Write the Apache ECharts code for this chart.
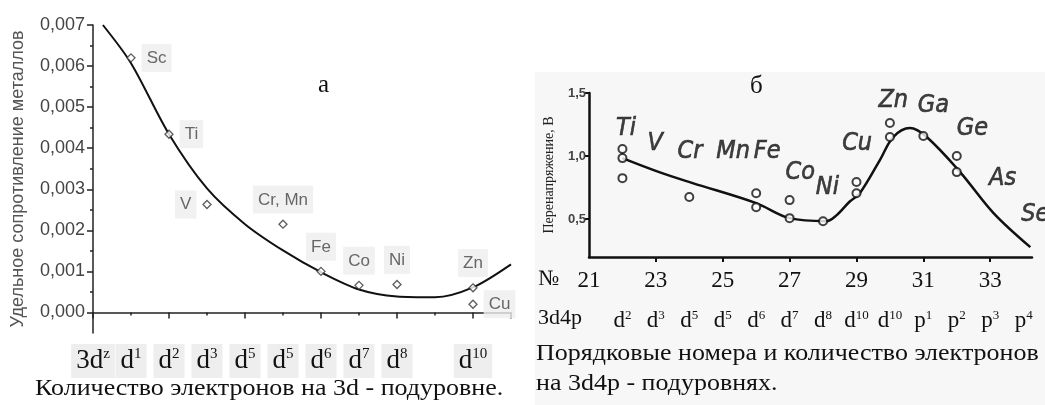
<!DOCTYPE html>
<html>
<head>
<meta charset="utf-8">
<script src="https://cdn.jsdelivr.net/npm/echarts@6/dist/echarts.min.js"></script>
<style>
html,body{margin:0;padding:0;background:#fff}
#chart{width:1045px;height:405px}
</style>
</head>
<body>
<div id="chart"></div>
<script>
// ---- left panel (а): resistivity vs number of 3d electrons
const leftTickVals = [0, 1, 2, 3, 4, 5, 6, 7, 8, 10];
const leftTickBase = ['3d', 'd', 'd', 'd', 'd', 'd', 'd', 'd', 'd', 'd'];
const leftTickSup = ['z', '1', '2', '3', '5', '5', '6', '7', '8', '10'];
const metalNames = ['Sc', 'Ti', 'V', 'Cr, Mn', 'Fe', 'Co', 'Ni', 'Zn', 'Cu'];
const metalX = [1, 2, 3, 5, 6, 7, 8, 10, 10];
const metalRho = [0.0062, 0.00434, 0.00263, 0.00215, 0.001, 0.00066, 0.00068, 0.0006, 0.0002];
const metalLabelPos = ['right', 'right', 'left', 'top', 'top', 'top', 'top', 'top', 'right'];
const fitX = [0.26, 1, 2, 3, 4, 5, 6, 7, 8, 9, 10, 11];
const fitRho = [0.007, 0.00607, 0.00434, 0.00302, 0.00215, 0.00151, 0.00098, 0.00056, 0.00039, 0.00037, 0.00061, 0.00117];
const rhoTicks = [0, 0.001, 0.002, 0.003, 0.004, 0.005, 0.006, 0.007];
const rhoMinor = [0.0005, 0.0015, 0.0025, 0.0035, 0.0045, 0.0055, 0.0065];

// ---- right panel (б): overvoltage vs atomic number
const numTicks = [21, 23, 25, 27, 29, 31, 33];
const shellVals = [22, 23, 24, 25, 26, 27, 28, 29, 30, 31, 32, 33, 34];
const shellBase = ['d', 'd', 'd', 'd', 'd', 'd', 'd', 'd', 'd', 'p', 'p', 'p', 'p'];
const shellSup = ['2', '3', '5', '5', '6', '7', '8', '10', '10', '1', '2', '3', '4'];
const voltTicks = [0.5, 1.0, 1.5];
const measZ = [22, 22, 22, 24, 26, 26, 27, 27, 28, 29, 29, 30, 30, 31, 32, 32];
const measV = [1.056, 0.984, 0.825, 0.675, 0.706, 0.595, 0.651, 0.508, 0.484, 0.794, 0.706, 1.262, 1.151, 1.159, 1.0, 0.873];
const curveZ = [22, 23.1, 24.1, 26, 27, 28.1, 28.4, 28.8, 29.1, 29.7, 30.1, 30.6, 31.1, 32.1, 33.1, 34.2];
const curveV = [0.984, 0.873, 0.786, 0.627, 0.508, 0.484, 0.53, 0.64, 0.706, 0.968, 1.151, 1.222, 1.151, 0.873, 0.548, 0.278];
const elemNames = ['Ti', 'V', 'Cr', 'Mn', 'Fe', 'Co', 'Ni', 'Cu', 'Zn', 'Ga', 'Ge', 'As', 'Se'];
const elemZ = [22.11, 22.98, 24.02, 25.31, 26.33, 27.32, 28.13, 29.02, 30.10, 31.30, 32.47, 33.37, 34.35];
const elemV = [1.22, 1.10, 1.04, 1.04, 1.04, 0.87, 0.75, 1.10, 1.44, 1.40, 1.22, 0.82, 0.54];

const serif = '"Liberation Serif", "Times New Roman", serif';
const sans = '"Liberation Sans", Arial, sans-serif';
const narrow = '"Liberation Sans Narrow", "DejaVu Sans Condensed", sans-serif';

function zip(a, b) {
    let out = [];
    for (let i = 0; i < a.length; i++) out.push([a[i], b[i]]);
    return out;
}
function comma(v, d) {
    return v.toFixed(d).replace('.', ',');
}

let metalData = [];
for (let i = 0; i < metalNames.length; i++) {
    metalData.push({
        name: metalNames[i],
        value: [metalX[i], metalRho[i]],
        label: {position: metalLabelPos[i]}
    });
}
let elemData = [];
for (let i = 0; i < elemNames.length; i++) {
    elemData.push({name: elemNames[i], value: [elemZ[i], elemV[i]]});
}

let option = {
    animation: false,
    backgroundColor: '#fff',
    graphic: [
        {type: 'rect', z: 0, shape: {x: 535, y: 72, width: 510, height: 333}, style: {fill: '#f7f7f7'}},
        {type: 'text', z: 5, left: 318, top: 73, style: {text: 'а', font: '25px ' + serif, fill: '#111'}},
        {type: 'text', z: 5, left: 750, top: 74, style: {text: 'б', font: '25px ' + serif, fill: '#111'}},
        {type: 'text', z: 5, x: 35, y: 377, scaleX: 1.13, style: {text: 'Количество электронов на 3d - подуровне.', font: '23px ' + serif, fill: '#111'}},
        {type: 'text', z: 5, left: 538, top: 268, style: {text: '№', font: '22px ' + serif, fill: '#111'}},
        {type: 'text', z: 5, left: 538, top: 307, style: {text: '3d4p', font: '22px ' + serif, fill: '#111'}},
        {type: 'text', z: 5, x: 536, y: 342, scaleX: 1.13, style: {text: 'Порядковые номера и количество электронов', font: '23px ' + serif, fill: '#111'}},
        {type: 'text', z: 5, x: 536, y: 372, scaleX: 1.13, style: {text: 'на 3d4p - подуровнях.', font: '23px ' + serif, fill: '#111'}}
    ],
    grid: [
        {left: 93, right: 534, top: 25, bottom: 72},
        {left: 589, right: 13, top: 93, bottom: 148}
    ],
    xAxis: [{
        gridIndex: 0, type: 'value', min: 0, max: 11, interval: 2,
        axisLine: {lineStyle: {color: '#222', width: 1.5}},
        axisTick: {length: 6, lineStyle: {color: '#222', width: 1.5}},
        minorTick: {show: true, splitNumber: 2, length: 3, lineStyle: {color: '#222', width: 1.5}},
        splitLine: {show: false},
        axisLabel: {
            customValues: leftTickVals, margin: 11,
            backgroundColor: '#eeeeee', padding: [3, 5, 3, 5],
            formatter: function (v) {
                let i = leftTickVals.indexOf(v);
                return '{b|' + leftTickBase[i] + '}{s|' + leftTickSup[i] + '}';
            },
            rich: {
                b: {fontFamily: serif, fontSize: 27, color: '#111', lineHeight: 28},
                s: {fontFamily: serif, fontSize: 15, color: '#111', verticalAlign: 'top', lineHeight: 15}
            }
        }
    }, {
        gridIndex: 1, type: 'value', min: 21, max: 34.25,
        axisLine: {lineStyle: {color: '#111', width: 2.5}},
        axisTick: {customValues: numTicks.slice(1), length: 5, lineStyle: {color: '#111', width: 2}},
        splitLine: {show: false},
        axisLabel: {customValues: numTicks, margin: 12, fontFamily: serif, fontSize: 23, color: '#111'}
    }, {
        gridIndex: 1, type: 'value', min: 21, max: 34.25, position: 'bottom', offset: 39,
        axisLine: {show: false}, axisTick: {show: false}, splitLine: {show: false},
        axisLabel: {
            customValues: shellVals, margin: 13,
            formatter: function (v) {
                let i = shellVals.indexOf(v);
                return '{b|' + shellBase[i] + '}{s|' + shellSup[i] + '}';
            },
            rich: {
                b: {fontFamily: serif, fontSize: 23, color: '#111', lineHeight: 23},
                s: {fontFamily: serif, fontSize: 13, color: '#111', verticalAlign: 'top', lineHeight: 13}
            }
        }
    }],
    yAxis: [{
        gridIndex: 0, type: 'value', min: -0.0005, max: 0.007,
        name: 'Удельное сопротивление металлов', nameLocation: 'middle', nameRotate: 90, nameGap: 66,
        nameTextStyle: {fontFamily: sans, fontSize: 18, color: '#555'},
        axisLine: {show: true, lineStyle: {color: '#222', width: 1.5}},
        axisTick: {show: true, customValues: rhoTicks, length: 6, lineStyle: {color: '#222', width: 1.5}},
        splitLine: {show: false},
        axisLabel: {customValues: rhoTicks, margin: 8, fontFamily: sans, fontSize: 18, color: '#444',
            formatter: function (v) { return comma(v, 3); }}
    }, {
        gridIndex: 0, type: 'value', min: -0.0005, max: 0.007, position: 'left',
        axisLine: {show: false},
        axisTick: {show: true, customValues: rhoMinor, length: 3, lineStyle: {color: '#222', width: 1.5}},
        axisLabel: {show: false}, splitLine: {show: false}
    }, {
        gridIndex: 1, type: 'value', min: 0.2, max: 1.5,
        name: 'Перенапряжение, В', nameLocation: 'middle', nameRotate: 90, nameGap: 33,
        nameTextStyle: {fontFamily: serif, fontSize: 14, color: '#222'},
        axisLine: {show: true, lineStyle: {color: '#111', width: 2.5}},
        axisTick: {show: true, customValues: voltTicks, length: 5, lineStyle: {color: '#111', width: 2}},
        splitLine: {show: false},
        axisLabel: {customValues: voltTicks, margin: 3, fontFamily: sans, fontSize: 13, fontWeight: 'bold', color: '#444',
            formatter: function (v) { return comma(v, 1); }}
    }],
    series: [{
        name: 'fit', type: 'line', xAxisIndex: 0, yAxisIndex: 0, z: 3,
        data: zip(fitX, fitRho), smooth: 0.3, showSymbol: false,
        lineStyle: {color: '#111', width: 2}
    }, {
        name: 'metals', type: 'scatter', xAxisIndex: 0, yAxisIndex: 0, z: 4,
        data: metalData, symbol: 'diamond', symbolSize: 8,
        itemStyle: {color: '#fff', borderColor: '#333', borderWidth: 1.3},
        label: {show: true, formatter: '{b}', fontFamily: sans, fontSize: 17, color: '#444',
            backgroundColor: '#eeeeee', padding: [6, 5, 5, 5], distance: 6}
    }, {
        name: 'curve', type: 'line', xAxisIndex: 1, yAxisIndex: 2, z: 3,
        data: zip(curveZ, curveV), smooth: 0.35, showSymbol: false,
        lineStyle: {color: '#111', width: 2.5}
    }, {
        name: 'measured', type: 'scatter', xAxisIndex: 1, yAxisIndex: 2, z: 4,
        data: zip(measZ, measV), symbol: 'circle', symbolSize: 8,
        itemStyle: {color: '#fff', borderColor: '#111', borderWidth: 2}
    }, {
        name: 'elements', type: 'scatter', xAxisIndex: 1, yAxisIndex: 2, z: 4, clip: false,
        data: elemData, symbolSize: 0, silent: true,
        label: {show: true, position: 'inside', formatter: '{b}', fontFamily: narrow,
            fontStyle: 'italic', fontSize: 25, color: '#111',
            textBorderColor: '#111', textBorderWidth: 0.6}
    }]
};

let myChart = echarts.init(document.getElementById('chart'));
myChart.setOption(option);
</script>
</body>
</html>
